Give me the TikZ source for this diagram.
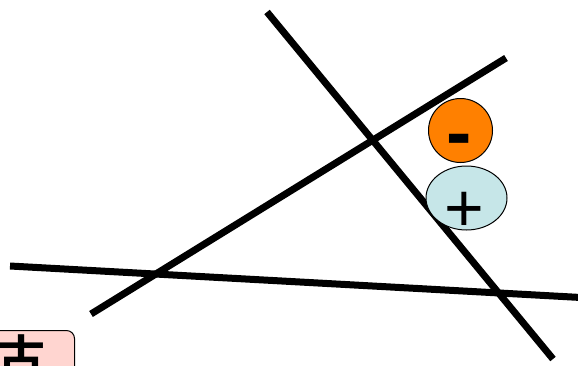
\documentclass[tikz,border=0pt]{standalone}
\usepackage{fontspec}
\setmainfont{Liberation Sans}
\newfontfamily\cjk{Noto Sans CJK SC}[BoldFont={* Bold}]
\usetikzlibrary{positioning,shapes.geometric}
\definecolor{charge}{RGB}{255,128,0}
\definecolor{ion}{RGB}{198,230,232}
\definecolor{tag}{RGB}{255,213,208}

\begin{document}
\begin{tikzpicture}[x=1pt, y=-1pt, line width=7pt, every node/.style={draw, line width=1pt, inner sep=0pt}]
    \useasboundingbox (0,0) rectangle (578,365);
    \clip (0,0) rectangle (578,365);
    % three lines
    \draw (267,12) -- (553,359);
    \draw (91,314) -- (506,58);
    \draw (10,266) -- (590,298);
    % charges
    \node[circle, fill=charge, minimum size=64pt] (minus) at (460.5,130.5) {};
    \node[ellipse, fill=ion, minimum width=81pt, minimum height=64pt] (plus) at (466.5,198) {};
    \node[draw=none, anchor=base, font=\fontsize{76}{76}\selectfont\bfseries] (minussign) at (459,158) {-};
    \node[draw=none, anchor=base, font=\fontsize{68}{68}\selectfont] (plussign) at (464,231) {+};
    % label box
    \node[rounded corners=8pt, fill=tag, minimum width=100pt, minimum height=50pt, anchor=north east] (word) at (75,330) {};
    \node[draw=none, anchor=base, font=\cjk\bfseries\fontsize{48}{48}\selectfont] (char) at (22,375) {古};
\end{tikzpicture}
\end{document}
